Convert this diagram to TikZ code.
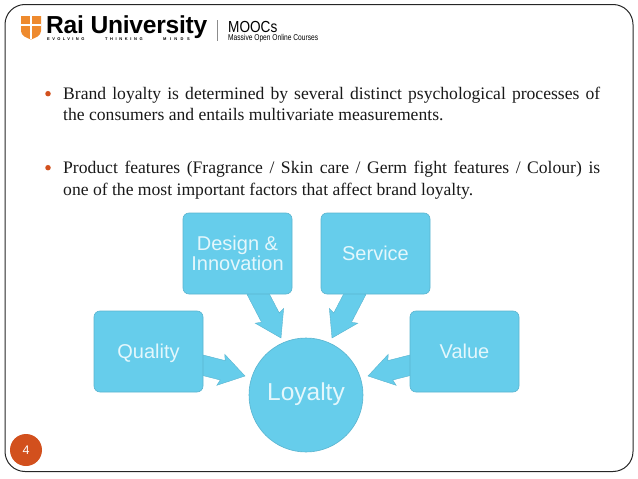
\documentclass[tikz,border=0pt]{standalone}
\usepackage{fontspec}
\setmainfont{Liberation Serif}
\setsansfont{Liberation Sans}
\usetikzlibrary{calc,backgrounds}
\definecolor{skyfill}{HTML}{66CDEB}
\definecolor{skyedge}{HTML}{5AB4CF}
\definecolor{skytext}{HTML}{E4F7FC}
\definecolor{rust}{HTML}{D2501D}
\definecolor{shield}{HTML}{EE8A2E}
\tikzset{
  x=1pt,y=-1pt,
  framebox/.style={draw=black!85,line width=1pt,rounded corners=20pt},
  tile/.style={rectangle,rounded corners=6pt,fill=skyfill,draw=skyedge,line width=.6pt,minimum width=109pt,minimum height=81pt,inner sep=0pt,align=center,text=skytext,font=\sffamily\fontsize{20}{20}\selectfont},
  hub/.style={circle,fill=skyfill,draw=skyedge,line width=.6pt,minimum size=114pt,inner sep=0pt,text=skytext,font=\sffamily\fontsize{24.5}{26}\selectfont},
  blockarrow/.style={fill=skyfill,draw=skyedge,line width=.4pt,line join=miter},
  bodyline/.style={anchor=base west,inner sep=0pt,text=black!90,font=\fontsize{17.6}{21}\selectfont},
  dotmark/.style={circle,fill=rust,minimum size=5.5pt,inner sep=0pt},
  pagedot/.style={circle,fill=rust,minimum size=32pt,inner sep=0pt,text=white,font=\sffamily\fontsize{12.5}{13}\selectfont},
  logotext/.style={anchor=base west,inner sep=0pt,text=black},
  mottotext/.style={logotext,font=\sffamily\bfseries\fontsize{4}{4}\selectfont},
}
\newcommand{\blockarr}[2]{%
  \path[blockarrow]
    ($(#1)!10pt!90:(#2)$) --
    ($($(#2)!23pt!(#1)$)!10pt!90:(#2)$) --
    ($($(#2)!25pt!(#1)$)!16pt!90:(#2)$) --
    (#2) --
    ($($(#2)!25pt!(#1)$)!16pt!-90:(#2)$) --
    ($($(#2)!23pt!(#1)$)!10pt!-90:(#2)$) --
    ($(#1)!10pt!-90:(#2)$) -- cycle;}
\newcommand{\lowered}[2]{\raisebox{-#1}[0pt][0pt]{#2}}
\begin{document}
\begin{tikzpicture}
\useasboundingbox (0,0) rectangle (638,479);
\draw[framebox] (5,4.5) rectangle (633,471.5);

% logo
\path[fill=shield] (21,16) -- (41,16) -- (41,31) .. controls (41,36) and (35,38) .. (31,39.5) .. controls (27,38) and (21,36) .. (21,31) -- cycle;
\draw[white,line width=1.4pt] (31,16) -- (31,39) (21,25) -- (41,25);
\node[logotext,font=\sffamily\bfseries\fontsize{24.6}{26}\selectfont] (rai) at (46,34) {\addfontfeature{LetterSpace=-1}Rai University};
\node[mottotext] (mo1) at (47,40.5) {\addfontfeature{LetterSpace=60}EVOLVING};
\node[mottotext] (mo2) at (105,40.5) {\addfontfeature{LetterSpace=65}THINKING};
\node[mottotext] (mo3) at (163,40.5) {\addfontfeature{LetterSpace=85}MINDS};
\draw[black!45,line width=.6pt] (217,20) -- (217,41);
\node[logotext,font=\sffamily\fontsize{16}{16}\selectfont] (mooc) at (228,32) {\scalebox{.85}[1]{MOOCs}};
\node[logotext,font=\sffamily\fontsize{8.5}{9}\selectfont] (mass) at (228,40) {\scalebox{.78}[1]{Massive Open Online Courses}};

% text
\node[dotmark] (b1) at (48,93.7) {};
\node[bodyline] (l1) at (63,99) {\makebox[537pt][s]{Brand loyalty is determined by several distinct psychological processes of}};
\node[bodyline] (l2) at (63,120) {the consumers and entails multivariate measurements.};
\node[dotmark] (b2) at (48,167.7) {};
\node[bodyline] (l3) at (63,173.5) {\makebox[537pt][s]{Product features (Fragrance / Skin care / Germ fight features / Colour) is}};
\node[bodyline] (l4) at (63,195) {one of the most important factors that affect brand loyalty.};

% diagram
\node[tile] (design) at (237.5,253.5) {Design \&\\Innovation};
\node[tile] (service) at (375.5,253.5) {\lowered{6.8pt}{Service}};
\node[tile] (quality) at (148.5,351.5) {\lowered{6.8pt}{Quality}};
\node[tile] (value) at (464.5,351.5) {\lowered{6.8pt}{Value}};
\node[hub] (loyalty) at (306,395) {\lowered{5.5pt}{Loyalty}};
\coordinate (ds) at (256,290);
\coordinate (dt) at (281,338);
\coordinate (ss) at (357,290);
\coordinate (st) at (332,338);
\coordinate (qs) at (198,364);
\coordinate (qt) at (245,376);
\coordinate (vs) at (415,364);
\coordinate (vt) at (368,376);
\begin{pgfonlayer}{background}
\blockarr{ds}{dt}
\blockarr{ss}{st}
\blockarr{qs}{qt}
\blockarr{vs}{vt}
\end{pgfonlayer}
\node[pagedot] (page) at (26,450) {4};
\end{tikzpicture}
\end{document}
